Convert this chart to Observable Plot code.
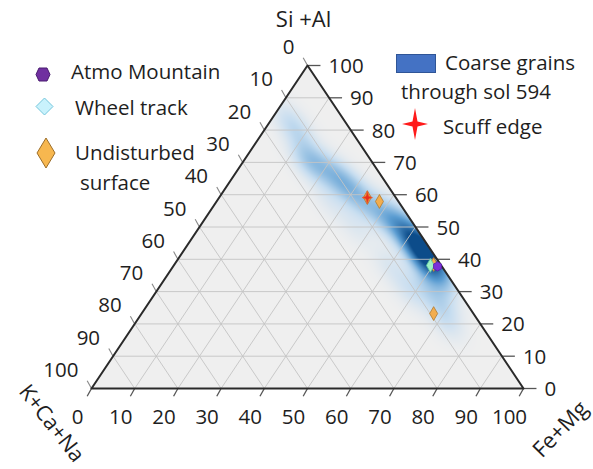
<!DOCTYPE html>
<html><head><meta charset="utf-8">
<script src="https://cdn.jsdelivr.net/npm/d3@7"></script>
<script src="https://cdn.jsdelivr.net/npm/@observablehq/plot@0.6"></script>
<style>
body{margin:0;background:#fff;}
#wrap{position:relative;width:593px;height:469px;font-family:"Open Sans",sans-serif;color:#1e1e1e;overflow:hidden}
#wrap > svg{position:absolute;left:0;top:0}
.lg{position:absolute;font-size:20.5px;line-height:20px;white-space:nowrap}
.sym{position:absolute}
</style></head><body><div id="wrap"></div>
<script>
// ---- data ----
const tickValues = [0, 10, 20, 30, 40, 50, 60, 70, 80, 90, 100];
const gridValues = [10, 20, 30, 40, 50, 60, 70, 80, 90];
const axisTitles = ["Si +Al", "K+Ca+Na", "Fe+Mg"];
// compositions as [K+Ca+Na, Fe+Mg, Si+Al] (percent)
const vertices = [[100, 0, 0], [0, 100, 0], [0, 0, 100], [100, 0, 0]];
const atmoMountain = [[1.0, 61.2, 37.8]];
const wheelTrack = [[2.5, 59.4, 38.1]];
const undisturbed = [[6.6, 34.3, 59.1], [4.4, 37.7, 57.9], [1.6, 60.0, 38.4], [9.2, 67.6, 23.2]];
const scuffEdge = [[6.6, 34.3, 59.1]];
// coarse grains through sol 594: density centres (Fe+Mg, Si+Al, relative weight)
const grainFeMg = [4.9, 9.2, 14.9, 18.5, 24.3, 29.8, 35.8, 41.2, 46.3, 51.1, 55.0, 57.6, 60.3, 61.4, 67.2, 71.4, 35.9, 26.2, 50.2, 58.7, 64.0];
const grainSiAl = [82.4, 78.3, 70.6, 69.0, 65.3, 61.3, 56.7, 53.6, 50.5, 46.4, 43.3, 40.9, 37.2, 31.9, 27.2, 21.1, 50.5, 58.2, 38.1, 30.3, 34.0];
const grainWeight = [0.11, 0.08, 0.19, 0.14, 0.23, 0.22, 0.15, 0.21, 0.29, 0.40, 0.58, 0.52, 0.26, 0.10, 0.12, 0.10, 0.06, 0.06, 0.07, 0.09, 0.12];
const legendLeft = ["Atmo Mountain", "Wheel track", "Undisturbed", "surface"];
const legendRight = ["Coarse grains", "through sol 594", "Scuff edge"];

// ---- ternary helpers ----
const tx = d => { const t = d[0] + d[1] + d[2]; return (d[1] + d[2] / 2) * 100 / t; };
const ty = d => { const t = d[0] + d[1] + d[2]; return d[2] * 100 / t; };
const centres = grainFeMg.map((f, i) => ({X: f + grainSiAl[i] / 2, Y: grainSiAl[i], w: grainWeight[i]}));
const PX = 4.32, PY = 3.23;
const ux = 0.616, uy = 0.787, vx = -0.787, vy = 0.616, sa = 16, sb = 9;
function density(X, Y) {
  if (Y < 0 || X < Y / 2 || X > 100 - Y / 2) return NaN;
  let s = 0;
  for (const c of centres) {
    const dx = (X - c.X) * PX, dy = -(Y - c.Y) * PY;
    const a = dx * ux + dy * uy, b = dx * vx + dy * vy;
    s += c.w * Math.exp(-0.5 * (a * a / (sa * sa) + b * b / (sb * sb)));
  }
  return s;
}

const star4 = {draw(ctx, size) {
  const r = Math.sqrt(size) * 0.9, q = r * 0.22;
  ctx.moveTo(0, -r); ctx.lineTo(q, -q); ctx.lineTo(r * 0.8, 0); ctx.lineTo(q, q);
  ctx.lineTo(0, r); ctx.lineTo(-q, q); ctx.lineTo(-r * 0.8, 0); ctx.lineTo(-q, -q); ctx.closePath();
}};

const FS = 20.5;
const chart = Plot.plot({
  width: 593, height: 469,
  marginLeft: 91, marginRight: 70, marginTop: 65, marginBottom: 81,
  x: {domain: [0, 100], axis: null},
  y: {domain: [0, 100], axis: null},
  color: {type: "linear", domain: [0, 0.15, 0.5, 1], range: ["#efefef", "#c6ddf0", "#5b9dd2", "#0c4c8a"], clamp: true, interpolate: "rgb"},
  style: {fontFamily: "'Open Sans', sans-serif", fontSize: "20px", color: "#1e1e1e", background: "transparent", overflow: "visible"},
  marks: [
    Plot.raster({x1: 0, x2: 100, y1: 0, y2: 100, fill: density, pixelSize: 1}),
    // grid
    Plot.link(gridValues, {x1: v => v / 2, y1: v => v, x2: v => 100 - v / 2, y2: v => v, stroke: "#c4c4c4", strokeWidth: 0.9}),
    Plot.link(gridValues, {x1: v => v, y1: 0, x2: v => v + (100 - v) / 2, y2: v => 100 - v, stroke: "#c4c4c4", strokeWidth: 0.9}),
    Plot.link(gridValues, {x1: v => 100 - v, y1: 0, x2: v => (100 - v) / 2, y2: v => 100 - v, stroke: "#c4c4c4", strokeWidth: 0.9}),
    // ticks
    Plot.link(tickValues, {x1: v => 100 - v / 2, y1: v => v, x2: v => 103 - v / 2, y2: v => v, stroke: "#555", strokeWidth: 1.3}),
    Plot.link(tickValues, {x1: v => v, y1: 0, x2: v => v - 1, y2: -2.4, stroke: "#555", strokeWidth: 1.3}),
    Plot.link(tickValues, {x1: v => (100 - v) / 2, y1: v => 100 - v, x2: v => (100 - v) / 2 - 1, y2: v => 102.4 - v, stroke: "#888", strokeWidth: 1.1}),
    // frame
    Plot.line(vertices, {x: tx, y: ty, stroke: "#2a2a2a", strokeWidth: 2}),
    // tick labels
    Plot.text(tickValues, {x: v => 100 - v / 2, y: v => v, text: d => String(d), textAnchor: "start", dx: 21, dy: 1, fontSize: FS, fill: "#1e1e1e"}),
    Plot.text(tickValues, {x: v => v, y: 0, text: d => String(d), dx: -14, dy: 29, fontSize: FS, fill: "#1e1e1e"}),
    Plot.text(tickValues, {x: v => (100 - v) / 2, y: v => 100 - v, text: d => String(d), textAnchor: "end", dx: -13, dy: -18, fontSize: FS, fill: "#1e1e1e"}),
    // axis titles
    Plot.text([axisTitles[0]], {x: 50, y: 100, text: d => d, dx: -4, dy: -46, fontSize: 22, fill: "#1e1e1e"}),
    Plot.text([axisTitles[1]], {x: 0, y: 0, text: d => d, dx: -40, dy: 35, rotate: 52, fontSize: 21.5, fill: "#1e1e1e"}),
    Plot.text([axisTitles[2]], {x: 100, y: 0, text: d => d, dx: 37, dy: 41, rotate: -46, fontSize: 22, fill: "#1e1e1e"}),
    // points
    Plot.dot(undisturbed, {x: tx, y: ty, symbol: "diamond", r: 4.2, fill: "#f2ad4e", stroke: "#b07a30", strokeWidth: 0.8}),
    Plot.dot(scuffEdge, {x: tx, y: ty, symbol: star4, r: 4, fill: "#e8301c", stroke: "#e8602c", strokeWidth: 0.8}),
    Plot.dot(wheelTrack, {x: tx, y: ty, symbol: "diamond", r: 4.2, fill: "#9ef0c4", stroke: "#5cc9a0", strokeWidth: 0.8}),
    Plot.dot(atmoMountain, {x: tx, y: ty, symbol: "hexagon", r: 4, fill: "#7a2fd8", stroke: "#5a1fa8", strokeWidth: 0.8})
  ]
});
const wrap = document.getElementById("wrap");
wrap.appendChild(chart);

// ---- legends (HTML, above the svg) ----
function addText(t, left, cy) {
  const d = document.createElement("div");
  d.className = "lg"; d.textContent = t;
  d.style.left = left + "px"; d.style.top = (cy - 11) + "px";
  wrap.appendChild(d);
}
function addSym(svg, left, top) {
  const d = document.createElement("div");
  d.className = "sym"; d.style.left = left + "px"; d.style.top = top + "px";
  d.innerHTML = svg; wrap.appendChild(d);
}
addSym('<svg width="16" height="15"><polygon points="4,1 12,1 15,7.5 12,14 4,14 1,7.5" fill="#7030a0" stroke="#4b1d70" stroke-width="1"/></svg>', 35, 65);
addText(legendLeft[0], 71, 72);
addSym('<svg width="19" height="19"><polygon points="9.5,1 18,9.5 9.5,18 1,9.5" fill="#c9f2fc" stroke="#74c6dc" stroke-width="1"/></svg>', 35, 97);
addText(legendLeft[1], 75, 108);
addSym('<svg width="20" height="32"><polygon points="10,1 19,16 10,31 1,16" fill="#f7b74f" stroke="#9c6e2a" stroke-width="1"/></svg>', 36, 137);
addText(legendLeft[2], 75, 153);
addText(legendLeft[3], 80, 183);
addSym('<svg width="41" height="20"><rect x="0.5" y="0.5" width="39" height="18" fill="#4472c4" stroke="#2f5597" stroke-width="1"/></svg>', 396, 54);
addText(legendRight[0], 445, 63);
addText(legendRight[1], 401, 92);
addSym('<svg width="28" height="34"><path d="M14,1 L16.5,14.5 L27,17 L16.5,19.5 L14,33 L11.5,19.5 L1,17 L11.5,14.5 Z" fill="#ff1a1a"/></svg>', 401, 107);
addText(legendRight[2], 443, 127);
</script></body></html>
